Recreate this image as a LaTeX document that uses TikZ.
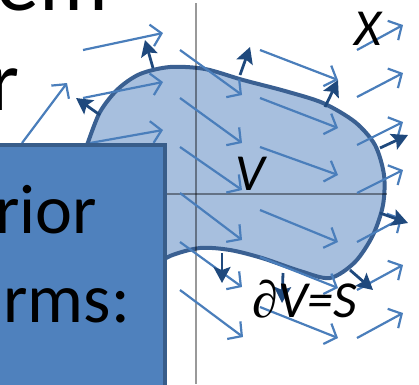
\documentclass[tikz,border=0pt]{standalone}
\usepackage{xcolor}
\definecolor{panelblue}{RGB}{79,129,189}
\definecolor{paneledge}{RGB}{56,93,138}
\definecolor{regionfill}{RGB}{167,191,222}
\definecolor{regionedge}{RGB}{58,96,146}
\definecolor{fieldblue}{RGB}{74,126,187}
\definecolor{normalblue}{RGB}{31,73,125}
\usepackage{fontspec}
\setmainfont{Carlito}
\newfontfamily\partfont{Liberation Serif}
\usepackage{tikz}
\usetikzlibrary{arrows.meta}

\begin{document}
\begin{tikzpicture}[x=1pt, y=-1pt,
  region/.style={fill=regionfill, draw=regionedge, line width=4pt},
  axis/.style={draw=black, opacity=0.4, line width=2pt},
  field/.style={fieldblue, line width=2.2pt, -{Straight Barb[length=10pt,width=22pt]}},
  normal/.style={normalblue, line width=2.8pt, -{Stealth[length=16pt,width=17pt,inset=3pt]}},
  panel/.style={fill=panelblue, draw=paneledge, line width=3.5pt},
  title/.style={font=\fontsize{86}{86}\selectfont, inner sep=0pt},
  boxtext/.style={font=\fontsize{70}{70}\selectfont, inner sep=0pt},
  symb/.style={font=\fontsize{52}{52}\selectfont\itshape, inner sep=0pt}
]
  \useasboundingbox (0,0) rectangle (419,384);

  % region V and its boundary
  \draw[region] plot[smooth cycle] coordinates {
    (87,145) (100,112) (118,89) (140,74) (170,67) (205,69) (243,80) (285,91)
    (323,103) (355,122) (375,145) (384,175) (383,205) (373,235) (355,262)
    (330,278) (300,271) (262,258) (230,250) (200,248) (170,256) (140,272)
    (100,250) (80,200) (80,165)};

  % axes
  \draw[axis] (120,194) -- (387,194);
  \draw[axis] (196,3) -- (196,384);

  % vector field
  \draw[field] (22,143) -- (67,83);
  \draw[field] (83,50) -- (163,33);
  \draw[field] (83,98) -- (163,82);
  \draw[field] (90,143) -- (163,130);
  \draw[field] (180,50) -- (242,95);
  \draw[field] (180,98) -- (242,143);
  \draw[field] (180,147) -- (242,190);
  \draw[field] (180,193) -- (242,240);
  \draw[field] (180,242) -- (242,287);
  \draw[field] (180,290) -- (243,337);
  \draw[field] (260,50) -- (338,80);
  \draw[field] (260,98) -- (338,128);
  \draw[field] (260,147) -- (338,175);
  \draw[field] (260,210) -- (338,242);
  \draw[field] (260,257) -- (338,288);
  \draw[field] (260,307) -- (338,338);
  \draw[field] (357,50) -- (403,25);
  \draw[field] (357,97) -- (403,73);
  \draw[field] (357,145) -- (403,122);
  \draw[field] (357,193) -- (403,170);
  \draw[field] (357,242) -- (402,218);
  \draw[field] (357,290) -- (403,265);
  \draw[field] (357,338) -- (403,313);

  % outward normals on S
  \draw[normal] (153,68) -- (145,40);
  \draw[normal] (100,115) -- (76,98);
  \draw[normal] (240,75) -- (250,47);
  \draw[normal] (325,107) -- (338,80);
  \draw[normal] (380,148) -- (408,135);
  \draw[normal] (380,213) -- (408,223);
  \draw[normal] (350,270) -- (373,290);
  \draw[normal] (283,273) -- (282,303);
  \draw[normal] (222,253) -- (222,283);

  % text box (left, cut)
  \draw[panel] (-10,145) rectangle (165,400);
  \node[boxtext, anchor=base east] (line1) at (97,233) {rior};
  \node[boxtext, anchor=base east] (line2) at (130,322) {rms:};

  % title (cut)
  \node[title, anchor=base east] (head1) at (108,10) {em};
  \node[title, anchor=base east] (head2) at (20,110) {r};

  % labels
  \node[symb] (space) at (368,29) {X};
  \node[symb, anchor=base] (vol) at (250,190) {V};
  \node[symb, anchor=base] (surf) at (305,317) {{\partfont ∂}V=S};
\end{tikzpicture}
\end{document}
